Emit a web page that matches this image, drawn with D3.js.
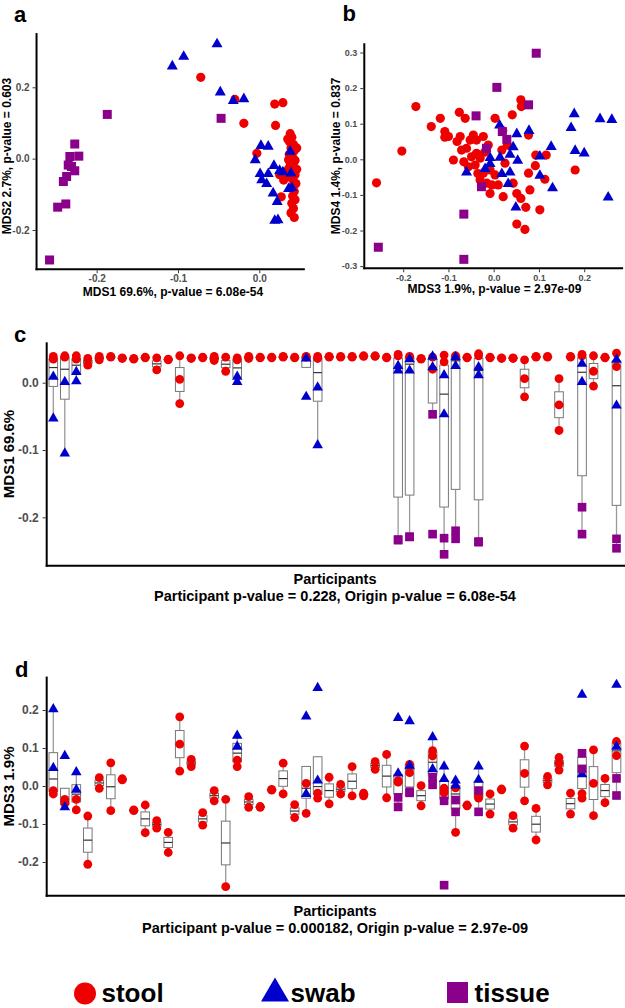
<!DOCTYPE html>
<html><head><meta charset="utf-8">
<script src="https://cdn.jsdelivr.net/npm/d3@7"></script>
<style>
body{margin:0;background:#fff}
svg{display:block}
text{font-family:"Liberation Sans",Arial,sans-serif;font-weight:bold}
</style>
</head><body>
<svg id="chart" width="625" height="1008"></svg>
<script>
// ---------- DATA ----------
const types = ["stool", "swab", "tissue"];

// Panel a: MDS1 (x) vs MDS2 (y)
const aStool = [[-0.072,0.228],[-0.030,0.166],[-0.019,0.099],[0.019,0.153],[0.029,0.157],[0.020,0.093],[-0.003,0.015],[0.027,-0.107],
  [0.038,0.070],[0.040,0.060],[0.037,0.048],[0.042,0.040],[0.039,0.030],[0.043,0.022],[0.037,0.012],[0.041,0.004],[0.044,-0.005],
  [0.038,-0.012],[0.042,-0.020],[0.036,-0.028],[0.040,-0.035],[0.044,-0.045],[0.038,-0.052],[0.042,-0.062],[0.045,-0.070],
  [0.040,-0.080],[0.043,-0.092],[0.041,-0.105],[0.044,-0.115],[0.040,-0.125],[0.042,-0.140],[0.039,-0.152],[0.043,-0.165],
  [0.035,0.055],[0.036,-0.003],[0.034,-0.050],[0.046,0.030],[0.046,-0.030],[0.025,-0.045],[0.030,-0.060]];
const aSwab = [[-0.107,0.261],[-0.093,0.288],[-0.052,0.323],[-0.048,0.188],[-0.032,0.164],[-0.019,0.169],[0.002,0.038],[0.011,0.036],
  [-0.005,-0.002],[0.038,0.022],[0.001,-0.041],[0.003,-0.058],[0.018,-0.018],[0.025,-0.032],[0.029,-0.036],[0.039,-0.039],
  [0.009,-0.069],[0.017,-0.095],[0.022,-0.119],[0.019,-0.172],[0.023,-0.170],[0.036,-0.083],[0.040,-0.080],[0.011,-0.041]];
const aTissue = [[-0.187,0.124],[-0.047,0.113],[-0.227,0.041],[-0.222,0.007],[-0.233,0.006],[-0.235,-0.018],[-0.227,-0.034],
  [-0.231,-0.022],[-0.237,-0.050],[-0.241,-0.064],[-0.248,-0.136],[-0.238,-0.127],[-0.258,-0.284]];

// Panel b: MDS3 (x) vs MDS4 (y)
const bStool = [[-0.172,0.148],[-0.203,0.023],[-0.259,-0.066],[-0.138,0.092],[-0.118,0.115],[-0.108,0.078],[-0.108,0.062],[-0.100,0.064],
  [-0.076,0.132],[-0.063,0.115],[-0.081,0.050],[-0.089,-0.002],[-0.074,0.064],[-0.071,0.026],[-0.060,0.031],[-0.045,0.068],
  [-0.052,0.054],[-0.038,0.054],[-0.023,0.064],[-0.066,-0.007],[-0.056,-0.021],[-0.049,0.007],[-0.038,0.017],[-0.030,0.003],
  [-0.041,-0.016],[-0.030,-0.058],[-0.023,-0.039],[-0.015,-0.067],[-0.008,-0.096],[-0.004,-0.072],[0.003,0.115],[0.020,0.080],
  [0.018,0.026],[0.025,-0.011],[0.010,-0.072],[0.021,-0.105],[0.041,0.125],[0.060,0.167],[0.061,0.148],[0.043,-0.067],
  [0.051,-0.096],[0.060,-0.110],[0.071,-0.135],[0.051,-0.182],[0.069,-0.197],[0.077,-0.039],[0.080,-0.086],[0.093,0.012],
  [0.092,-0.018],[0.116,0.012],[0.113,-0.056],[0.102,-0.142],[0.180,-0.030],[0.077,0.068],[-0.008,-0.030],[0.003,-0.044],
  [-0.020,0.020],[-0.012,0.040],[-0.035,-0.040],[0.030,0.040]];
const bSwab = [[0.178,0.129],[0.235,0.115],[0.261,0.113],[0.171,0.090],[0.180,0.026],[0.200,0.019],[0.253,-0.105],[0.013,0.097],
  [0.051,0.073],[0.078,0.082],[0.127,0.037],[0.043,0.036],[0.102,0.010],[0.053,-0.002],[-0.008,0.006],[0.014,0.007],[0.036,0.015],
  [-0.019,-0.025],[-0.060,-0.035],[0.036,-0.035],[0.018,-0.039],[0.102,-0.044],[0.032,-0.067],[0.130,-0.079],[0.049,-0.133],[-0.008,-0.011]];
const bTissue = [[0.094,0.298],[0.007,0.202],[0.077,0.153],[-0.039,0.122],[0.029,0.056],[-0.016,0.031],[-0.027,-0.077],
  [-0.066,-0.154],[-0.255,-0.247],[-0.066,-0.281],[0.019,0.078]];

// Panel c: MDS1 per participant (50 participants)
const cStool = [[0.039,0.035],[0.040,0.038],[0.040,0.035],[0.036,0.026],[0.039,0.034],[0.039,0.038],[0.037,0.036],[0.036,0.035],
  [0.038,0.037],[0.037,0.019],[0.035,0.034],[0.040,0.005,-0.031],[0.037,0.036],[0.038,0.037],[0.039,0.033],[0.038,0.017],
  [0.037,0.034],[0.039,0.036],[0.038,0.037],[0.038,0.037],[0.039,0.038],[0.038,0.037],[0.039,0.038],[0.039,0.036],
  [0.039,0.038],[0.039,0.038],[0.039,0.038],[0.040,0.039],[0.040,0.039],[0.038,0.037],[0.042,0.040],[0.039,0.038],
  [0.036,0.035],[0.038,0.020],[0.041,0.031],[0.040,0.039],[0.038,0.037],[0.043,0.040],[0.038,0.037],[0.037,0.036],
  [0.037,0.036],[0.034,0.006,-0.021],[0.039,0.038],[0.039,0.038],[0.006,-0.033,-0.071],[0.039,0.038],[0.042,0.040],
  [0.040,0.017,-0.005],[0.038,0.037],[0.044,0.024]];
const cSwab = {0:[0.010,-0.052],1:[0.002,-0.104],2:[0.017,0.003],16:[0.010,0.002],22:[0.037,-0.020],23:[-0.006,-0.092],
  30:[0.026,0.019],31:[0.036,0.019],33:[0.040,0.024],34:[0.012,-0.046],35:[0.039,0.026],37:[0.024,0.012],46:[0.029,0.002],49:[0.035,-0.033]};
const cTissue = {30:[-0.233,-0.234],31:[-0.229,-0.229],33:[-0.047,-0.225],34:[-0.231,-0.255],35:[-0.220,-0.232],
  37:[-0.237,-0.236],46:[-0.185,-0.225],49:[-0.232,-0.246]};

// Panel d: MDS3 per participant
const dStool = [[-0.012,-0.021],[-0.035,-0.046],[-0.035,-0.063],[-0.079,-0.206],[0.022,-0.006],[0.061,-0.065],[0.019,0.016],
  [-0.063,-0.065],[-0.050,-0.123],[-0.091,-0.111],[-0.122,-0.175],[0.182,0.110,0.039],[0.070,0.051],[-0.070,-0.103],
  [-0.012,-0.039],[-0.035,-0.265],[0.068,0.051],[-0.028,-0.056],[-0.054,-0.056],[-0.009,-0.011],[0.060,-0.021],
  [-0.049,-0.083],[0.007,-0.072],[-0.019,-0.032],[0.023,-0.047],[0.004,-0.021],[0.051,-0.026],[-0.019,-0.026],
  [0.064,0.044],[0.083,-0.031],[0.014,0.010],[0.057,0.035],[0.001,-0.052],[0.093,0.079],[-0.006,-0.018],[-0.005,-0.122],
  [-0.050,-0.052],[-0.024,-0.032],[-0.021,-0.074],[-0.008,-0.010],[-0.078,-0.111],[0.105,0.033,-0.039],[-0.059,-0.142],
  [0.025,0.003],[0.075,0.060,0.042],[-0.019,-0.074],[-0.032,-0.020],[0.095,0.007,-0.078],[0.020,-0.044],[0.117,0.080]];
const dSwab = {0:[0.204,0.049],1:[0.081,-0.054],2:[0.038,-0.008],16:[0.134,0.105],22:[0.185,-0.019],23:[0.260,0.016],
  30:[0.181,0.035],31:[0.172,0.055],33:[0.130,0.046],34:[0.053,0.020],35:[0.016,0.003],37:[0.053,0.018],46:[0.242,0.033],49:[0.268,0.105]};
const dTissue = {30:[-0.030,-0.055],31:[-0.018,-0.015],33:[0.023,0.003],34:[-0.039,-0.261],35:[-0.037,-0.068],
  37:[-0.012,-0.068],46:[0.086,0.045],49:[0.020,-0.025]};

// Tick values / labels
const aXTicks = [-0.2, -0.1, 0.0], aYTicks = [0.2, 0.0, -0.2];
const bXTicks = [-0.2, -0.1, 0.0, 0.1, 0.2], bYTicks = [0.3, 0.2, 0.1, 0.0, -0.1, -0.2, -0.3];
const cYTicks = [0.0, -0.1, -0.2], dYTicks = [0.2, 0.1, 0.0, -0.1, -0.2];
const titles = {
  aX: "MDS1 69.6%, p-value = 6.08e-54", aY: "MDS2 2.7%, p-value = 0.603",
  bX: "MDS3 1.9%, p-value = 2.97e-09", bY: "MDS4 1.4%, p-value = 0.837",
  cY: "MDS1 69.6%", cSub: "Participant p-value = 0.228, Origin p-value = 6.08e-54",
  dY: "MDS3 1.9%", dSub: "Participant p-value = 0.000182, Origin p-value = 2.97e-09",
  part: "Participants"
};
const legendLabels = ["stool", "swab", "tissue"];

// ---------- DRAWING ----------
const COL = {stool: "#EE0000", swab: "#0000CD", tissue: "#8B008B"};
const svg = d3.select("#chart");
const fmt = d => d.toFixed(1);

function marker(g, type, x, y, k) {
  k = k || 1;
  if (type === "stool") {
    g.append("circle").attr("cx", x).attr("cy", y).attr("r", 4.6 * k).attr("fill", COL.stool);
  } else if (type === "swab") {
    const w = 11 * k, h = 9.6 * k;
    g.append("path").attr("d", `M${x},${y - h * 0.6}L${x + w / 2},${y + h * 0.4}L${x - w / 2},${y + h * 0.4}Z`).attr("fill", COL.swab);
  } else {
    const s = 9 * k;
    g.append("rect").attr("x", x - s / 2).attr("y", y - s / 2).attr("width", s).attr("height", s).attr("fill", COL.tissue);
  }
}

function frame(g, x, y, xLim, yLim) {
  g.append("line").attr("x1", x(xLim[0])).attr("x2", x(xLim[0])).attr("y1", y(yLim[1])).attr("y2", y(yLim[0]) + 1)
    .attr("stroke", "#000").attr("stroke-width", 2);
  g.append("line").attr("x1", x(xLim[0]) - 1).attr("x2", x(xLim[1])).attr("y1", y(yLim[0])).attr("y2", y(yLim[0]))
    .attr("stroke", "#000").attr("stroke-width", 2);
}

function styleAxis(ax, fs) {
  ax.select(".domain").remove();
  ax.selectAll("line").attr("stroke", "#333");
  ax.selectAll("text").attr("fill", "#4D4D4D").style("font-size", fs + "px")
    .style("font-family", '"Liberation Sans",Arial,sans-serif').style("font-weight", "bold");
}
function yAxis(g, y, x0, ticks, fs, pad) {
  const ax = g.append("g").attr("transform", `translate(${x0},0)`)
    .call(d3.axisLeft(y).tickValues(ticks).tickFormat(fmt).tickSize(3).tickPadding(pad));
  styleAxis(ax, fs);
}
function xAxis(g, x, y0, ticks, fs, pad) {
  const ax = g.append("g").attr("transform", `translate(0,${y0})`)
    .call(d3.axisBottom(x).tickValues(ticks).tickFormat(fmt).tickSize(3).tickPadding(pad));
  styleAxis(ax, fs);
}

function label(txt, x, y, fs, anchor, rot) {
  const t = svg.append("text").text(txt).attr("font-size", fs).attr("text-anchor", anchor || "start").attr("fill", "#000");
  if (rot) t.attr("transform", `translate(${x},${y}) rotate(-90)`);
  else t.attr("x", x).attr("y", y);
  return t;
}

function scatterPanel(o) {
  const g = svg.append("g");
  frame(g, o.x, o.y, o.xLim, o.yLim);
  yAxis(g, o.y, o.x(o.xLim[0]) - 1, o.yTicks, o.fs, 3);
  xAxis(g, o.x, o.y(o.yLim[0]) + 1, o.xTicks, o.fs, 2);
  const pts = g.append("g");
  o.data.forEach((arr, ti) => arr.forEach(p => marker(pts, types[ti], o.x(p[0]), o.y(p[1]))));
}

// Panel a
const ax = d3.scaleLinear().domain([-0.2, 0.0]).range([96.7, 259.3]);
const ay = d3.scaleLinear().domain([0.2, -0.2]).range([87.3, 230]);
scatterPanel({x: ax, y: ay, xLim: [-0.274, 0.056], yLim: [-0.31, 0.352], xTicks: aXTicks, yTicks: aYTicks, fs: 10, data: [aStool, aSwab, aTissue]});
label("a", 14, 21.7, 22);
label(titles.aX, 173, 296, 12, "middle");
label(titles.aY, 10.5, 156, 12, "middle", true);

// Panel b
const bx = d3.scaleLinear().domain([0.0, 0.1]).range([493.7, 538.95]);
const by = d3.scaleLinear().domain([0.0, 0.1]).range([159.3, 123.7]);
scatterPanel({x: bx, y: by, xLim: [-0.286, 0.286], yLim: [-0.306, 0.326], xTicks: bXTicks, yTicks: bYTicks, fs: 9, data: [bStool, bSwab, bTissue]});
label("b", 342.5, 20.7, 22);
label(titles.bX, 494.5, 292.8, 12, "middle");
label(titles.bY, 340, 156, 12, "middle", true);

// Panels c & d
const px = d3.scalePoint().domain(d3.range(50)).range([53.3, 616.5]);
const bw = px.step() * 0.75;

function boxStats(vals) {
  const s = vals.slice().sort(d3.ascending);
  const q1 = d3.quantile(s, 0.25), med = d3.quantile(s, 0.5), q3 = d3.quantile(s, 0.75);
  const iqr = q3 - q1;
  const lo = d3.min(s.filter(v => v >= q1 - 1.5 * iqr));
  const hi = d3.max(s.filter(v => v <= q3 + 1.5 * iqr));
  return {q1, med, q3, lo, hi};
}

function stripPanel(o) {
  const g = svg.append("g");
  const y = o.y;
  g.append("line").attr("x1", 46.7).attr("x2", 46.7).attr("y1", y(o.yLim[1])).attr("y2", y(o.yLim[0]) + 1).attr("stroke", "#000").attr("stroke-width", 2);
  g.append("line").attr("x1", 45.7).attr("x2", 625).attr("y1", y(o.yLim[0])).attr("y2", y(o.yLim[0])).attr("stroke", "#000").attr("stroke-width", 2);
  yAxis(g, y, 45.7, o.yTicks, 12, 4);
  const boxes = g.append("g");
  const pts = g.append("g");
  d3.range(50).forEach(i => {
    const groups = [o.stool[i] || [], o.swab[i] || [], o.tissue[i] || []];
    const vals = [].concat(...groups);
    const cx = px(i);
    if (vals.length > 1) {
      const b = boxStats(vals);
      boxes.append("line").attr("x1", cx).attr("x2", cx).attr("y1", y(b.hi)).attr("y2", y(b.q3)).attr("stroke", "#999").attr("stroke-width", 1.3);
      boxes.append("line").attr("x1", cx).attr("x2", cx).attr("y1", y(b.q1)).attr("y2", y(b.lo)).attr("stroke", "#999").attr("stroke-width", 1.3);
      boxes.append("rect").attr("x", cx - bw / 2).attr("y", y(b.q3)).attr("width", bw).attr("height", Math.max(0.5, y(b.q1) - y(b.q3)))
        .attr("fill", "#fff").attr("stroke", "#777").attr("stroke-width", 1);
      boxes.append("line").attr("x1", cx - bw / 2).attr("x2", cx + bw / 2).attr("y1", y(b.med)).attr("y2", y(b.med)).attr("stroke", "#333").attr("stroke-width", 1.2);
    }
    groups.forEach((arr, ti) => arr.forEach(v => marker(pts, types[ti], cx, y(v), 0.96)));
  });
}

const cy = d3.scaleLinear().domain([0.0, -0.1]).range([382.7, 450]);
stripPanel({y: cy, yLim: [-0.272, 0.06], yTicks: cYTicks, stool: cStool, swab: cSwab, tissue: cTissue});
label("c", 14, 341.7, 22);
label(titles.cY, 14, 454, 15, "middle", true);
label(titles.part, 335, 584, 14.5, "middle");
label(titles.cSub, 335, 600.5, 14.5, "middle");

const dy = d3.scaleLinear().domain([0.0, 0.1]).range([786, 748]);
stripPanel({y: dy, yLim: [-0.289, 0.288], yTicks: dYTicks, stool: dStool, swab: dSwab, tissue: dTissue});
label("d", 15, 677.3, 22);
label(titles.dY, 13.5, 786.5, 15, "middle", true);
label(titles.part, 335, 916, 14.5, "middle");
label(titles.dSub, 335, 933, 14.5, "middle");

// Legend
const leg = svg.append("g");
leg.append("circle").attr("cx", 85).attr("cy", 993.5).attr("r", 11).attr("fill", COL.stool);
label(legendLabels[0], 101.5, 1002.3, 26);
leg.append("path").attr("d", "M275,977.5L289,1001.5L261,1001.5Z").attr("fill", COL.swab);
label(legendLabels[1], 290.5, 1002.3, 26);
leg.append("rect").attr("x", 447).attr("y", 982).attr("width", 21).attr("height", 21).attr("fill", COL.tissue);
label(legendLabels[2], 474.5, 1002.3, 26);
</script>
</body></html>
